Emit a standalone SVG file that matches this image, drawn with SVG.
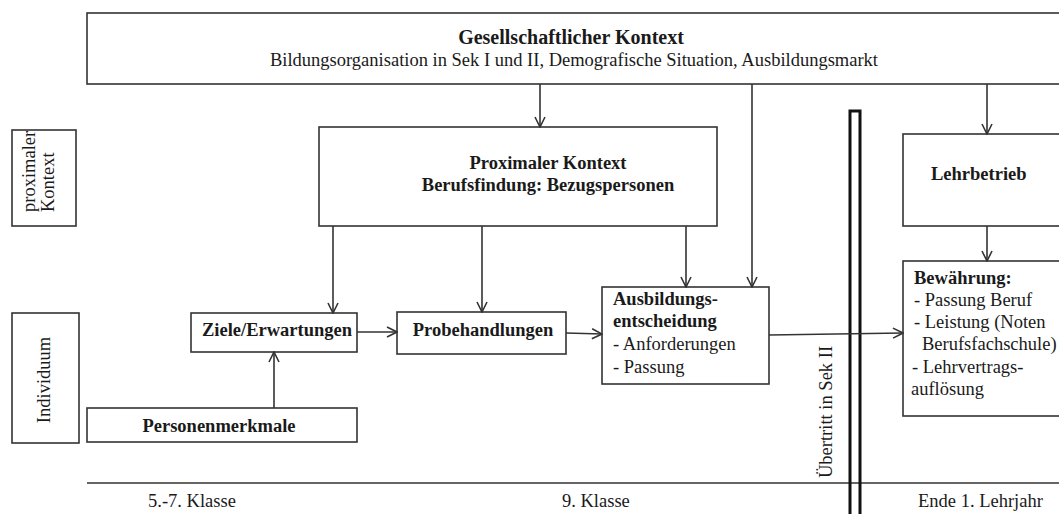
<svg xmlns="http://www.w3.org/2000/svg" width="1059" height="514" viewBox="0 0 1059 514">
<defs>
<style>
.box{fill:#fff;stroke:#333;stroke-width:1.6}
.bar{fill:none;stroke:#111;stroke-width:3}
.ln{fill:none;stroke:#333;stroke-width:1.6}
.t{font-family:"Liberation Serif","Times New Roman",serif;font-size:18.5px;fill:#1a1a1a}
.b{font-weight:bold}
.m{text-anchor:middle}
.h{font-size:20px}
</style>
<marker id="arr" viewBox="0 0 12 12" refX="11" refY="6" markerWidth="12" markerHeight="12" markerUnits="userSpaceOnUse" orient="auto">
<path d="M1,1 L11,6 L1,11" fill="none" stroke="#333" stroke-width="1.6"/>
</marker>
</defs>
<rect width="1059" height="514" fill="#fff"/>

<g id="gesellschaft">
<rect class="box" x="87" y="13" width="1000" height="71"/>
<text class="t b m h" x="571" y="44">Gesellschaftlicher Kontext</text>
<text class="t m" x="574" y="66">Bildungsorganisation in Sek I und II, Demografische Situation, Ausbildungsmarkt</text>
</g>

<g id="label-proximal">
<rect class="box" x="12" y="130" width="64" height="96"/>
<text class="t" transform="translate(35,212) rotate(-90)">proximaler</text>
<text class="t" transform="translate(54,212) rotate(-90)">Kontext</text>
</g>

<g id="label-individuum">
<rect class="box" x="12" y="313" width="67" height="130"/>
<text class="t m" transform="translate(50,380) rotate(-90)">Individuum</text>
</g>

<g id="proximaler-kontext">
<rect class="box" x="319" y="127" width="398" height="99"/>
<text class="t b m" x="548" y="169">Proximaler Kontext</text>
<text class="t b m" x="548" y="191">Berufsfindung: Bezugspersonen</text>
</g>

<g id="ziele">
<rect class="box" x="191" y="313" width="166" height="39"/>
<text class="t b m" x="277" y="336">Ziele/Erwartungen</text>
</g>

<g id="probehandlungen">
<rect class="box" x="397" y="312" width="169" height="42"/>
<text class="t b m" x="483" y="336">Probehandlungen</text>
</g>

<g id="personenmerkmale">
<rect class="box" x="87" y="408" width="270" height="34"/>
<text class="t b m" x="219" y="432">Personenmerkmale</text>
</g>

<g id="ausbildungsentscheidung">
<rect class="box" x="602" y="287" width="167" height="97"/>
<text class="t b" x="613" y="305">Ausbildungs-</text>
<text class="t b" x="613" y="327">entscheidung</text>
<text class="t" x="613" y="350">- Anforderungen</text>
<text class="t" x="613" y="373">- Passung</text>
</g>

<g id="lehrbetrieb">
<rect class="box" x="903" y="134" width="200" height="92"/>
<text class="t b" x="931" y="180">Lehrbetrieb</text>
</g>

<g id="bewaehrung">
<rect class="box" x="903" y="261" width="200" height="155"/>
<text class="t b" x="914" y="284">Bewährung:</text>
<text class="t" x="914" y="306">- Passung Beruf</text>
<text class="t" x="914" y="328">- Leistung (Noten</text>
<text class="t" x="922" y="350">Berufsfachschule)</text>
<text class="t" x="912" y="373">- Lehrvertrags-</text>
<text class="t" x="911" y="395">auflösung</text>
</g>

<g id="timeline">
<line class="ln" x1="87" y1="483" x2="1059" y2="483"/>
<text class="t" x="148" y="507">5.-7. Klasse</text>
<text class="t" x="562" y="507">9. Klasse</text>
<text class="t" x="918" y="507">Ende 1. Lehrjahr</text>
</g>

<g id="uebertritt">
<rect class="bar" x="850" y="111" width="10" height="420"/>
<text class="t" transform="translate(832,478) rotate(-90)">Übertritt in Sek II</text>
</g>

<g id="connectors">
<line class="ln" x1="540" y1="84" x2="540" y2="127" marker-end="url(#arr)"/>
<line class="ln" x1="752" y1="84" x2="752" y2="287" marker-end="url(#arr)"/>
<line class="ln" x1="987" y1="84" x2="987" y2="134" marker-end="url(#arr)"/>
<line class="ln" x1="333" y1="226" x2="333" y2="313" marker-end="url(#arr)"/>
<line class="ln" x1="482" y1="226" x2="482" y2="312" marker-end="url(#arr)"/>
<line class="ln" x1="686" y1="226" x2="686" y2="287" marker-end="url(#arr)"/>
<line class="ln" x1="987" y1="226" x2="987" y2="261" marker-end="url(#arr)"/>
<line class="ln" x1="274" y1="408" x2="274" y2="352" marker-end="url(#arr)"/>
<line class="ln" x1="357" y1="332" x2="397" y2="332" marker-end="url(#arr)"/>
<line class="ln" x1="566" y1="333" x2="602" y2="334" marker-end="url(#arr)"/>
<line class="ln" x1="769" y1="335" x2="903" y2="333" marker-end="url(#arr)"/>
</g>
</svg>
